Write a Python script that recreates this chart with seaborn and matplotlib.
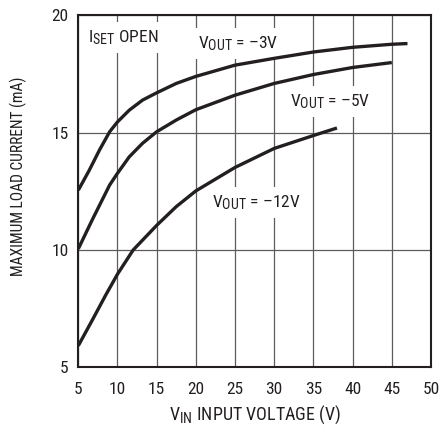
import matplotlib
matplotlib.use("Agg")
import matplotlib.pyplot as plt
import seaborn as sns
import pandas as pd

try:
    import matplotlib._mathtext as _mt
    _mt.SHRINK_FACTOR = 0.8
except Exception:
    pass

# Data
vin_3 = [5, 6.4, 7.7, 9.0, 10, 11.5, 13.2, 15, 17.5, 20, 25, 30, 35, 40, 45, 47]
iout_3 = [12.55, 13.4, 14.26, 15.04, 15.46, 15.96, 16.39, 16.7, 17.1, 17.4, 17.88, 18.17, 18.44, 18.64, 18.77, 18.8]
vin_5 = [5, 6.8, 9.0, 10, 11.5, 13.2, 15, 17.5, 20, 25, 30, 35, 40, 45]
iout_5 = [10.05, 11.3, 12.77, 13.27, 13.97, 14.55, 15.04, 15.54, 15.98, 16.6, 17.1, 17.48, 17.78, 17.99]
vin_12 = [5, 6.8, 8.5, 10, 12, 15, 17.5, 20, 25, 30, 35, 38]
iout_12 = [5.92, 7.02, 8.08, 8.97, 10.0, 11.05, 11.85, 12.52, 13.52, 14.33, 14.88, 15.2]
series_names = ["-3V", "-5V", "-12V"]
x_ticks = [5, 10, 15, 20, 25, 30, 35, 40, 45, 50]
y_ticks = [5, 10, 15, 20]

frames = []
for name, xs, ys in zip(series_names, [vin_3, vin_5, vin_12], [iout_3, iout_5, iout_12]):
    frames.append(pd.DataFrame({"vin": xs, "iout": ys, "series": name}))
df = pd.concat(frames, ignore_index=True)

sns.set_style("white")
FONT = ["Roboto Condensed", "DejaVu Sans"]
plt.rcParams["font.family"] = FONT
plt.rcParams["mathtext.fontset"] = "custom"
plt.rcParams["mathtext.rm"] = "Roboto Condensed"
plt.rcParams["mathtext.it"] = "Roboto Condensed"
plt.rcParams["mathtext.bf"] = "Roboto Condensed"
plt.rcParams["mathtext.sf"] = "Roboto Condensed"

INK = "#231f20"

fig = plt.figure(figsize=(4.44, 4.26), dpi=100)
ax = fig.add_axes([78.3 / 444, 1 - 367.3 / 426, (431 - 78.3) / 444, (367.3 - 15.4) / 426])

sns.lineplot(data=df, x="vin", y="iout", hue="series", palette=[INK] * 3,
             linewidth=2.4, legend=False, ax=ax, sort=False, estimator=None)
for ln in ax.lines:
    ln.set_solid_capstyle("butt")
    ln.set_solid_joinstyle("round")
    ln.set_zorder(3)

ax.set_xlim(5, 50)
ax.set_ylim(5, 20)
ax.set_xticks(x_ticks)
ax.set_yticks(y_ticks)
ax.set_xticklabels([str(t) for t in x_ticks])
ax.set_yticklabels([str(t) for t in y_ticks])
ax.tick_params(axis="both", length=0, labelsize=12.5, colors=INK)
ax.tick_params(axis="x", pad=10.5)
ax.tick_params(axis="y", pad=7)
ax.grid(True, color="#5c5c5c", linewidth=0.9)
ax.set_axisbelow(True)
for s in ax.spines.values():
    s.set_color(INK)
    s.set_linewidth(1.5)
    s.set_zorder(4)

ax.set_xlabel(r"V$_{\mathrm{IN}}$ INPUT VOLTAGE (V)", fontsize=13, color=INK, labelpad=4.5)
ax.set_ylabel("MAXIMUM LOAD CURRENT (mA)", fontsize=11.2, color=INK)
ax.yaxis.set_label_coords(-(78.3 - 27) / 352.7, 0.5416)

box = dict(facecolor="white", edgecolor="none", pad=4.5)
kw = dict(fontsize=12.5, color=INK, ha="left", va="baseline", bbox=box, zorder=1.5)
ax.text(6.28, 18.87, r"I$_{\mathrm{SET}}$ OPEN", **kw)
ax.text(20.3, 18.59, r"V$_{\mathrm{OUT}}$ = –3V", **kw)
ax.text(32.04, 16.13, r"V$_{\mathrm{OUT}}$ = –5V", **kw)
ax.text(22.03, 11.82, r"V$_{\mathrm{OUT}}$ = –12V", **kw)

fig.savefig("out.png", dpi=100)
